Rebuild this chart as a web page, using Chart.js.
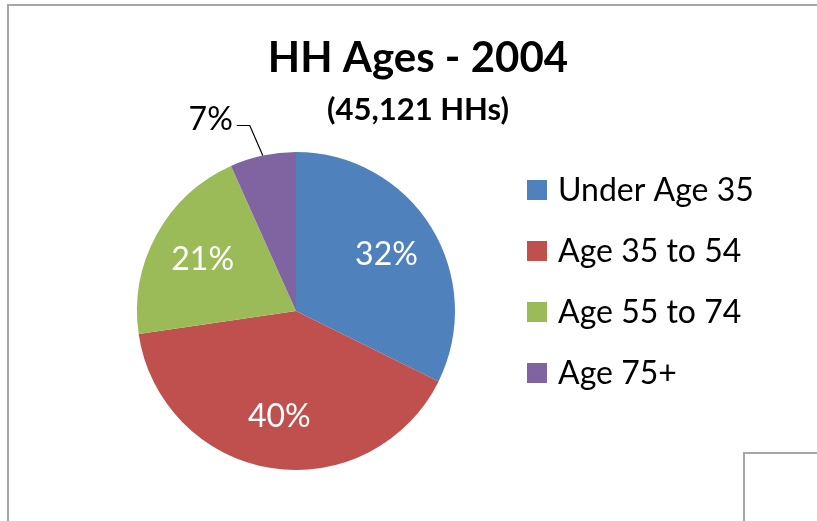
<!DOCTYPE html>
<html>
<head>
<meta charset="utf-8">
<script src="https://cdn.jsdelivr.net/npm/chart.js@4.4.1/dist/chart.umd.min.js"></script>
<style>
  html, body { margin: 0; padding: 0; background: #fff; }
  #wrap { position: relative; width: 817px; height: 521px; overflow: hidden; }
  .frame { position: absolute; border-left: 2px solid #a6a6a6; border-top: 2px solid #a6a6a6; }
  #chart { position: absolute; left: 0; top: 0; }
</style>
</head>
<body>
<div id="wrap">
  <div class="frame" style="left:7px; top:4px; width:900px; height:600px;"></div>
  <div class="frame" style="left:743px; top:452px; width:200px; height:200px;"></div>
  <canvas id="chart" width="817" height="521"></canvas>
</div>
<script>
// Household age groups, 2004 (share of 45,121 HHs, %)
const categories = ['Under Age 35', 'Age 35 to 54', 'Age 55 to 74', 'Age 75+'];
const shares = [32.3, 40.4, 20.6, 6.7];
const colors = ['#4F81BD', '#C0504D', '#9BBB59', '#8064A2'];
const titleText = 'HH Ages - 2004';
const subtitleText = '(45,121 HHs)';

const FONT = 'Lato, "Open Sans", sans-serif';

// slice labels, title and legend drawn on top of the pie
const decorations = {
    id: 'decorations',
    afterDraw(chart) {
        const ctx = chart.ctx;
        const meta = chart.getDatasetMeta(0);
        ctx.save();

        // title
        ctx.fillStyle = '#000';
        ctx.textAlign = 'center';
        ctx.textBaseline = 'middle';
        ctx.font = 'bold 42px ' + FONT;
        ctx.fillText(titleText, 418, 58);
        ctx.font = 'bold 31px ' + FONT;
        ctx.fillText(subtitleText, 418, 110);

        // percentages
        ctx.font = '32px ' + FONT;
        meta.data.forEach((arc, i) => {
            const p = arc.getProps(['x', 'y', 'startAngle', 'endAngle', 'outerRadius'], true);
            const mid = (p.startAngle + p.endAngle) / 2;
            const label = Math.round(shares[i]) + '%';
            if (shares[i] > 10) {
                const r = p.outerRadius * 0.67;
                ctx.fillStyle = '#fff';
                ctx.textAlign = 'center';
                ctx.fillText(label, p.x + Math.cos(mid) * r, p.y + Math.sin(mid) * r);
            } else {
                // small slice: outside label with leader line
                const ex = p.x + Math.cos(mid) * p.outerRadius;
                const ey = p.y + Math.sin(mid) * p.outerRadius;
                const bx = ex - 13, by = ey - 30;
                ctx.strokeStyle = '#000';
                ctx.lineWidth = 1.2;
                ctx.beginPath();
                ctx.moveTo(ex, ey);
                ctx.lineTo(bx, by);
                ctx.lineTo(bx - 13, by);
                ctx.stroke();
                ctx.fillStyle = '#000';
                ctx.textAlign = 'right';
                ctx.fillText(label, bx - 17, by - 6);
            }
        });

        // legend
        ctx.textAlign = 'left';
        categories.forEach((c, i) => {
            const cy = 190 + i * 61;
            ctx.fillStyle = colors[i];
            ctx.fillRect(527, cy - 10, 20, 20);
            ctx.fillStyle = '#000';
            ctx.fillText(c, 558, cy + 1);
        });
        ctx.restore();
    }
};

new Chart(document.getElementById('chart'), {
    type: 'pie',
    data: {
        labels: categories,
        datasets: [{
            data: shares,
            backgroundColor: colors,
            borderWidth: 0
        }]
    },
    options: {
        responsive: false,
        animation: false,
        layout: { padding: { left: 137, top: 152, right: 362, bottom: 51 } },
        plugins: {
            legend: { display: false },
            title: { display: false },
            tooltip: { enabled: false }
        }
    },
    plugins: [decorations]
});
</script>
</body>
</html>
